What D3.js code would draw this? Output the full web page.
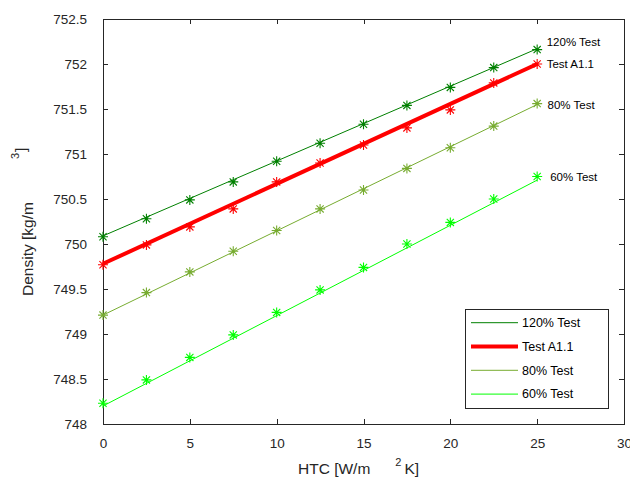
<!DOCTYPE html>
<html>
<head>
<meta charset="utf-8">
<script src="https://cdn.jsdelivr.net/npm/d3@7"></script>
<style>
  html, body { margin: 0; padding: 0; background: #ffffff; }
  svg { display: block; font-family: "Liberation Sans", Arial, Helvetica, sans-serif; }
</style>
</head>
<body>
<svg id="chart" width="630" height="484"></svg>
<script>
// Heat transfer coefficient sample points [W/m^2 K]
const htc = [0, 2.5, 5, 7.5, 10, 12.5, 15, 17.5, 20, 22.5, 25];

// Measured densities [kg/m^3] per test case
const dens120 = [750.08, 750.28, 750.49, 750.69, 750.92, 751.12, 751.33, 751.54, 751.74, 751.96, 752.16];
const densA11 = [749.77, 749.99, 750.19, 750.39, 750.69, 750.90, 751.10, 751.29, 751.49, 751.79, 752.00];
const dens80  = [749.21, 749.46, 749.69, 749.92, 750.15, 750.39, 750.60, 750.84, 751.07, 751.31, 751.56];
const dens60  = [748.23, 748.49, 748.74, 748.99, 749.24, 749.49, 749.74, 750.00, 750.24, 750.50, 750.75];

// Linear fits, evaluated at the ends of the HTC range
const fitHtc  = [0, 25];
const fit120  = [750.09, 752.17];
const fitA11  = [749.78, 752.00];
const fit80   = [749.21, 751.55];
const fit60   = [748.20, 750.71];

const seriesNames  = ["120% Test", "Test A1.1", "80% Test", "60% Test"];
const seriesColors = ["#008000", "#ff0000", "#77ac30", "#00ff00"];
const seriesWidths = [1, 4, 1, 1];

// In-plot annotation anchors (data coordinates)
const noteHtc  = [25.55, 25.55, 25.6, 25.75];
const noteDens = [752.24, 752.00, 751.55, 750.75];

const xTicks = [0, 5, 10, 15, 20, 25, 30];
const yTicks = [748, 748.5, 749, 749.5, 750, 750.5, 751, 751.5, 752, 752.5];

const series = seriesNames.map((name, i) => ({
  name,
  color: seriesColors[i],
  width: seriesWidths[i],
  points: [dens120, densA11, dens80, dens60][i].map((d, j) => ({ x: htc[j], y: d })),
  fit: [fit120, fitA11, fit80, fit60][i].map((d, j) => ({ x: fitHtc[j], y: d })),
  note: { x: noteHtc[i], y: noteDens[i] }
}));

const svg = d3.select("#chart");
const plotL = 103, plotR = 624, plotT = 19, plotB = 424;
const axisColor = "#262626";

const x = d3.scaleLinear().domain([0, 30]).range([plotL, plotR]);
const y = d3.scaleLinear().domain([748, 752.5]).range([plotB, plotT]);

svg.append("rect").attr("width", 630).attr("height", 484).attr("fill", "#ffffff");

// Axes with inward ticks on all four sides
function styleAxis(g, showText) {
  g.select(".domain").remove();
  g.selectAll(".tick line").attr("stroke", axisColor).attr("shape-rendering", "crispEdges");
  g.selectAll(".tick text")
    .attr("fill", axisColor)
    .style("font-size", "13.5px")
    .style("font-family", '"Liberation Sans", Arial, sans-serif');
  if (!showText) g.selectAll(".tick text").remove();
}

svg.append("g")
  .attr("transform", `translate(0,${plotB})`)
  .call(d3.axisBottom(x).tickValues(xTicks).tickFormat(d3.format("d")).tickSize(-5).tickPadding(14))
  .call(g => styleAxis(g, true));

svg.append("g")
  .attr("transform", `translate(0,${plotT})`)
  .call(d3.axisTop(x).tickValues(xTicks).tickSize(-5))
  .call(g => styleAxis(g, false));

svg.append("g")
  .attr("transform", `translate(${plotL},0)`)
  .call(d3.axisLeft(y).tickValues(yTicks).tickFormat(d => String(d)).tickSize(-5).tickPadding(16))
  .call(g => styleAxis(g, true));

svg.append("g")
  .attr("transform", `translate(${plotR},0)`)
  .call(d3.axisRight(y).tickValues(yTicks).tickSize(-5))
  .call(g => styleAxis(g, false));

// Axes box
svg.append("rect")
  .attr("x", plotL).attr("y", plotT)
  .attr("width", plotR - plotL).attr("height", plotB - plotT)
  .attr("fill", "none").attr("stroke", axisColor).attr("stroke-width", 1)
  .attr("shape-rendering", "crispEdges");

// Fit lines
const line = d3.line().x(d => x(d.x)).y(d => y(d.y));
svg.append("g").selectAll("path")
  .data(series)
  .join("path")
  .attr("d", d => line(d.fit))
  .attr("fill", "none")
  .attr("stroke", d => d.color)
  .attr("stroke-width", d => d.width);

// Asterisk markers (plus + cross)
const r = 5, rd = r * 0.72;
const star = `M${-r},0L${r},0M0,${-r}L0,${r}M${-rd},${-rd}L${rd},${rd}M${-rd},${rd}L${rd},${-rd}`;
series.forEach(s => {
  svg.append("g").selectAll("path")
    .data(s.points)
    .join("path")
    .attr("transform", d => `translate(${x(d.x)},${y(d.y)})`)
    .attr("d", star)
    .attr("fill", "none")
    .attr("stroke", s.color)
    .attr("stroke-width", 1.1);
});

// Series annotations at line ends
svg.append("g").selectAll("text")
  .data(series)
  .join("text")
  .attr("x", d => x(d.note.x))
  .attr("y", d => y(d.note.y))
  .attr("dy", "0.35em")
  .attr("fill", "#000")
  .style("font-size", "11.5px")
  .text(d => d.name);

// Legend
const lg = svg.append("g");
lg.append("rect")
  .attr("x", 465.5).attr("y", 309.5).attr("width", 143).attr("height", 99)
  .attr("fill", "#ffffff").attr("stroke", axisColor).attr("stroke-width", 1);
series.forEach((s, i) => {
  const ry = 322.7 + i * 23.8;
  lg.append("line")
    .attr("x1", 471).attr("x2", 518).attr("y1", ry).attr("y2", ry)
    .attr("stroke", s.color).attr("stroke-width", s.width);
  lg.append("text")
    .attr("x", 522).attr("y", ry).attr("dy", "0.35em")
    .attr("fill", "#000")
    .style("font-size", "12.5px")
    .text(s.name);
});

// Axis titles
const xt = svg.append("text")
  .attr("x", 298).attr("y", 474)
  .attr("fill", axisColor)
  .style("font-size", "15.5px");
xt.append("tspan").text("HTC [W/m");
xt.append("tspan").attr("dx", 25).attr("dy", -8).style("font-size", "11px").text("2");
xt.append("tspan").attr("dx", 3).attr("dy", 8).text("K]");

const yt = svg.append("text")
  .attr("transform", "translate(33,296) rotate(-90)")
  .attr("fill", axisColor)
  .style("font-size", "15.5px");
yt.append("tspan").text("Density [kg/m");
yt.append("tspan").attr("dx", 43).attr("dy", -14).style("font-size", "11px").text("3");
yt.append("tspan").attr("dx", 1).attr("dy", 7).text("]");
</script>
</body>
</html>
